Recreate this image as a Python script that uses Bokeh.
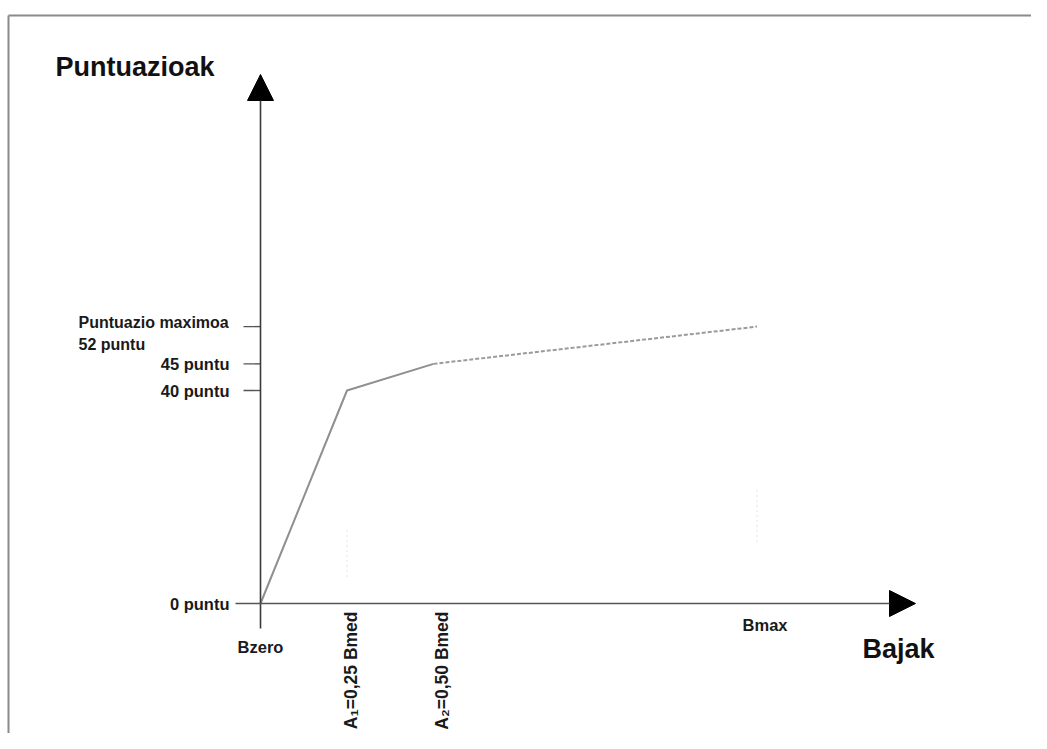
import math
from bokeh.plotting import figure
from bokeh.models import Range1d, Arrow, NormalHead
from bokeh.core.properties import value
from bokeh.embed import file_html
from bokeh.resources import INLINE

# ---- data ----
bajak_labels = ["Bzero", "A₁=0,25 Bmed", "A₂=0,50 Bmed", "Bmax"]
bajak_x = [0.0, 0.25, 0.50, 1.435]          # in units of Bmed
puntuak = [0, 40, 45, 52]
puntu_labels = ["0 puntu", "40 puntu", "45 puntu", "Puntuazio maximoa\n52 puntu"]
y_title = "Puntuazioak"
x_title = "Bajak"

# ---- layout (pixel mapping of the canvas) ----
W, H = 1031, 733
X0, XS = 260.0, 346.0      # canvas px of x=0, px per Bmed
Y0, YS = 603.0, 5.325      # canvas px (from top) of y=0, px per point


def dx(px):   # pixel -> data x
    return (px - X0) / XS


def dy(py):   # pixel (from top) -> data y
    return (Y0 - py) / YS


p = figure(width=W, height=H, output_backend="svg", toolbar_location=None,
           x_range=Range1d(dx(0), dx(W)), y_range=Range1d(dy(H), dy(0)),
           min_border=0, x_axis_type=None, y_axis_type=None)
p.xgrid.visible = False
p.ygrid.visible = False
p.outline_line_color = None
p.background_fill_color = "white"
p.border_fill_color = "white"

FONT = value("Liberation Sans")

# frame border (top and left)
p.segment(x0=[dx(8), dx(8)], y0=[dy(15), dy(15)], x1=[dx(W + 20), dx(8)], y1=[dy(15), dy(H + 20)],
          line_color="#8a8a8a", line_width=2)

# axes with arrow heads
p.add_layout(Arrow(x_start=0, y_start=dy(628), x_end=0, y_end=dy(74),
                   line_color="#3a3a3a", line_width=1.6,
                   end=NormalHead(size=26, fill_color="black", line_color="black")))
p.add_layout(Arrow(x_start=dx(235), y_start=0, x_end=dx(915), y_end=0,
                   line_color="#555555", line_width=1.6,
                   end=NormalHead(size=26, fill_color="black", line_color="black")))

# y ticks
p.segment(x0=[dx(243)] * 3, y0=puntuak[1:], x1=[0] * 3, y1=puntuak[1:],
          line_color="#555555", line_width=1.4)

# faint dotted guide lines
p.segment(x0=[bajak_x[1], bajak_x[3]], y0=[dy(530), dy(490)],
          x1=[bajak_x[1], bajak_x[3]], y1=[dy(580), dy(545)],
          line_color="#cfcfcf", line_width=1.2, line_dash="1 4")

# score curve
p.line(bajak_x[:3], puntuak[:3], line_color="#8f8f8f", line_width=2)
p.line(bajak_x[2:], puntuak[2:], line_color="#9a9a9a", line_width=2, line_dash="4 2")

# y labels
p.text(x=[dx(243)] * 3, y=puntuak[:3], text=puntu_labels[:3], x_offset=-14,
       text_align="right", text_baseline="middle", text_font=FONT,
       text_font_style="bold", text_font_size="16.5px", text_color="#1a1a1a")
p.text(x=[dx(78)], y=[puntuak[3]], text=[puntu_labels[3]], y_offset=7,
       text_align="left", text_baseline="middle", text_font=FONT,
       text_font_style="bold", text_font_size="16px", text_color="#1a1a1a",
       text_line_height=1.3)

# x labels
p.text(x=[bajak_x[0]], y=[dy(646)], text=[bajak_labels[0]],
       text_align="center", text_baseline="middle", text_font=FONT,
       text_font_style="bold", text_font_size="16.5px", text_color="#1a1a1a")
p.text(x=[bajak_x[3]], y=[dy(624)], text=[bajak_labels[3]], x_offset=8,
       text_align="center", text_baseline="middle", text_font=FONT,
       text_font_style="bold", text_font_size="16.5px", text_color="#1a1a1a")
p.text(x=bajak_x[1:3], y=[0, 0], text=bajak_labels[1:3], x_offset=[4, 8], y_offset=8,
       angle=math.pi / 2, text_align="right", text_baseline="middle", text_font=FONT,
       text_font_style="bold", text_font_size="17.5px", text_color="#1a1a1a")

# titles
p.text(x=[dx(55)], y=[dy(66)], text=[y_title], text_align="left",
       text_baseline="middle", text_font=FONT, text_font_style="bold",
       text_font_size="27px", text_color="#111111")
p.text(x=[dx(862)], y=[dy(648)], text=[x_title], text_align="left",
       text_baseline="middle", text_font=FONT, text_font_style="bold",
       text_font_size="27px", text_color="#111111")

open("out.html", "w").write(file_html(p, INLINE))
